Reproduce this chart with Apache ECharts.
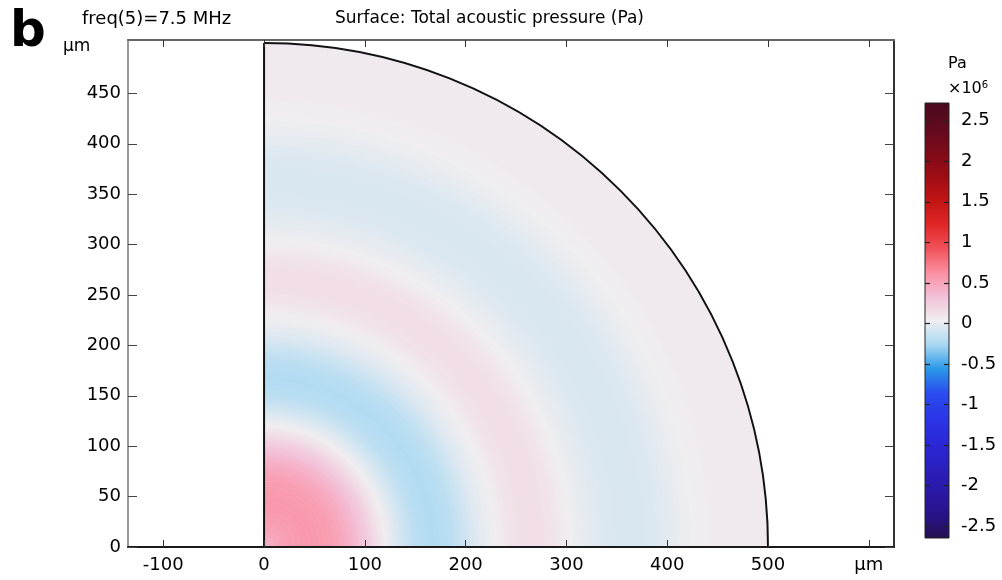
<!DOCTYPE html>
<html>
<head>
<meta charset="utf-8">
<title>Total acoustic pressure</title>
<script src="https://cdn.jsdelivr.net/npm/echarts@6/dist/echarts.min.js"></script>
<style>
  html, body { margin: 0; padding: 0; background: #fff; }
  #chart { width: 1002px; height: 580px; }
</style>
</head>
<body>
<div id="chart"></div>
<script>
// radial samples of the pressure field (um) and the pressure read at each one (x10^6 Pa)
const fieldRadius = [
  0, 5, 10, 15, 20, 25, 30, 35, 40, 45, 50, 55, 60, 65, 70, 75, 80, 85, 90, 95,
  100, 105, 110, 115, 120, 125, 130, 135, 140, 145, 150, 155, 160, 165, 170, 175, 180, 185, 190, 195,
  200, 205, 210, 215, 220, 225, 230, 235, 240, 245, 250, 255, 260, 265, 270, 275, 280, 285, 290, 295,
  300, 305, 310, 315, 320, 325, 330, 335, 340, 345, 350, 355, 360, 365, 370, 375, 380, 385, 390, 395,
  400, 405, 410, 415, 420, 425, 430, 435, 440, 445, 450, 455, 460, 465, 470, 475, 480, 485, 490, 495, 500
];
const fieldPressure = [
  0.42, 0.44, 0.47, 0.50, 0.52, 0.54, 0.55, 0.56, 0.57, 0.57, 0.57, 0.56, 0.55, 0.54, 0.52, 0.49, 0.46, 0.42, 0.38, 0.33,
  0.28, 0.22, 0.16, 0.10, 0.05, 0.00, -0.04, -0.08, -0.12, -0.15, -0.18, -0.20, -0.21, -0.22, -0.22, -0.21, -0.20, -0.18, -0.16, -0.13,
  -0.10, -0.07, -0.04, -0.02, 0.00, 0.02, 0.05, 0.07, 0.09, 0.11, 0.12, 0.13, 0.14, 0.14, 0.14, 0.13, 0.12, 0.11, 0.09, 0.07,
  0.05, 0.03, 0.01, 0.00, -0.01, -0.02, -0.03, -0.04, -0.05, -0.05, -0.06, -0.06, -0.06, -0.06, -0.06, -0.06, -0.05, -0.05, -0.04, -0.03,
  -0.02, -0.01, 0.00, 0.01, 0.02, 0.03, 0.04, 0.05, 0.05, 0.06, 0.06, 0.06, 0.06, 0.06, 0.06, 0.06, 0.06, 0.06, 0.06, 0.06, 0.06
];
const domainRadius = 500;

const xTicks = [-100, 0, 100, 200, 300, 400, 500, 600];
const yTicks = [0, 50, 100, 150, 200, 250, 300, 350, 400, 450];
const barTicks = [-2.5, -2, -1.5, -1, -0.5, 0, 0.5, 1, 1.5, 2, 2.5];
const barMin = -2.65;
const barMax = 2.72;

// colour table, evenly spread from barMin to barMax
const waveColors = [
  '#241050', '#28128a', '#2a18a8', '#2a20c0', '#2a28d8', '#2a36e8', '#2a4cf0', '#2a98e8', '#a8d8f2',
  '#f0eef0',
  '#f2c0d8', '#fb8ea0', '#f05058', '#e02424', '#c01414', '#9c0c14', '#7c0a18', '#600a1e', '#480a1c'
];

const font = 'DejaVu Sans';

const colorOf = v => echarts.color.lerp((v - barMin) / (barMax - barMin), waveColors);

// one ring between each pair of neighbouring samples, shaded from one sample colour to the next
const ringData = fieldRadius.slice(0, -1).map((r, i) => [r, fieldRadius[i + 1], fieldPressure[i], fieldPressure[i + 1]]);

const chart = echarts.init(document.getElementById('chart'));

const axisCommon = {
  type: 'value',
  z: 10,
  splitLine: { show: false }
};

const option = {
  animation: false,
  backgroundColor: '#fff',
  textStyle: { fontFamily: font },
  title: [
    { text: 'b', left: 5, top: 3, textStyle: { fontSize: 50, fontWeight: 'bold', color: '#000', fontFamily: font } },
    { text: 'freq(5)=7.5 MHz', left: 77, top: 5, textStyle: { fontSize: 18, fontWeight: 'normal', color: '#000', fontFamily: font } },
    { text: 'Surface: Total acoustic pressure (Pa)', left: 330, top: 5, textStyle: { fontSize: 17, fontWeight: 'normal', color: '#000', fontFamily: font } }
  ],
  grid: [
    { left: 128, top: 40, width: 766, height: 507, show: false },
    { left: 925, top: 103, width: 24, height: 435, show: false }
  ],
  xAxis: [
    Object.assign({}, axisCommon, {
      gridIndex: 0, min: -135, max: 625, position: 'bottom',
      axisLine: { show: true, onZero: false, lineStyle: { color: '#1a1a1a', width: 2 } },
      axisTick: { show: true, inside: true, length: 7, customValues: xTicks, lineStyle: { color: '#333' } },
      axisLabel: {
        customValues: xTicks, fontSize: 18, color: '#000', margin: 9, fontFamily: font,
        formatter: v => (v === 600 ? 'μm' : String(v))
      }
    }),
    Object.assign({}, axisCommon, {
      gridIndex: 0, min: -135, max: 625, position: 'top',
      axisLine: { show: true, onZero: false, lineStyle: { color: '#666', width: 2 } },
      axisTick: { show: true, inside: true, length: 7, customValues: xTicks, lineStyle: { color: '#333' } },
      axisLabel: { show: false }
    }),
    Object.assign({}, axisCommon, { gridIndex: 1, min: 0, max: 1, show: false })
  ],
  yAxis: [
    Object.assign({}, axisCommon, {
      gridIndex: 0, min: 0, max: 503, position: 'left',
      axisLine: { show: true, onZero: false, lineStyle: { color: '#999', width: 2 } },
      axisTick: { show: true, inside: true, length: 9, customValues: yTicks, lineStyle: { color: '#444' } },
      axisLabel: { customValues: yTicks, fontSize: 18, color: '#000', margin: 7, fontFamily: font }
    }),
    Object.assign({}, axisCommon, {
      gridIndex: 0, min: 0, max: 503, position: 'right',
      axisLine: { show: true, onZero: false, lineStyle: { color: '#333', width: 2 } },
      axisTick: { show: true, inside: true, length: 9, customValues: yTicks, lineStyle: { color: '#444' } },
      axisLabel: { show: false }
    }),
    Object.assign({}, axisCommon, {
      gridIndex: 1, min: barMin, max: barMax, position: 'right',
      axisLine: { show: false },
      axisTick: { show: false },
      axisLabel: { customValues: barTicks, fontSize: 18, color: '#000', margin: 12, fontFamily: font, formatter: v => String(v) }
    })
  ],
  graphic: [
    { type: 'text', left: 63, top: 38, style: { text: 'μm', font: '17px "DejaVu Sans"', fill: '#000' } },
    { type: 'text', left: 948, top: 56, style: { text: 'Pa', font: '16px "DejaVu Sans"', fill: '#000' } },
    {
      type: 'text', left: 948, top: 80,
      style: {
        text: '×10{s|6}', font: '16px "DejaVu Sans"', fill: '#000',
        rich: { s: { fontSize: 10, verticalAlign: 'top', padding: [0, 0, 8, 0], fontFamily: font } }
      }
    }
  ],
  series: [
    {
      type: 'custom',
      name: 'pressure',
      xAxisIndex: 0,
      yAxisIndex: 0,
      z: 2,
      silent: true,
      encode: { x: 0, y: 1 },
      data: ringData,
      renderItem: (params, api) => {
        const c = api.coord([0, 0]);
        const rIn = api.size([api.value(0), 0])[0];
        const rOut = api.size([api.value(1), 0])[0];
        const shade = new echarts.graphic.RadialGradient(c[0], c[1], rOut, [
          { offset: rIn / rOut, color: colorOf(api.value(2)) },
          { offset: 1, color: colorOf(api.value(3)) }
        ], true);
        return {
          type: 'sector',
          shape: { cx: c[0], cy: c[1], r0: rIn, r: rOut, startAngle: -Math.PI / 2, endAngle: 0, clockwise: true },
          style: { fill: shade, stroke: shade, lineWidth: 0.8 }
        };
      }
    },
    {
      type: 'custom',
      name: 'outline',
      xAxisIndex: 0,
      yAxisIndex: 0,
      z: 5,
      silent: true,
      data: [[0, 0]],
      renderItem: (params, api) => {
        const c = api.coord([0, 0]);
        const top = api.coord([0, domainRadius]);
        const r = api.size([domainRadius, 0])[0];
        return {
          type: 'group',
          children: [
            { type: 'arc', shape: { cx: c[0], cy: c[1], r: r, startAngle: -Math.PI / 2, endAngle: 0, clockwise: true },
              style: { stroke: '#111', lineWidth: 2, fill: null } },
            { type: 'line', shape: { x1: c[0], y1: c[1], x2: top[0], y2: top[1] },
              style: { stroke: '#111', lineWidth: 2 } }
          ]
        };
      }
    },
    {
      // colour bar: one box spanning the colour range, shaded with the same colour table, ticks on both edges
      type: 'custom',
      name: 'colorbar',
      xAxisIndex: 2,
      yAxisIndex: 2,
      z: 1,
      silent: true,
      data: [[0, barMin, 1, barMax]],
      renderItem: (params, api) => {
        const p0 = api.coord([api.value(0), api.value(3)]);
        const p1 = api.coord([api.value(2), api.value(1)]);
        const stops = waveColors.map((col, i) => ({ offset: 1 - i / (waveColors.length - 1), color: col })).reverse();
        const children = [{
          type: 'rect',
          shape: { x: p0[0], y: p0[1], width: p1[0] - p0[0], height: p1[1] - p0[1] },
          style: { fill: new echarts.graphic.LinearGradient(0, 0, 0, 1, stops), stroke: '#222', lineWidth: 1 }
        }];
        barTicks.forEach(t => {
          const y = Math.round(api.coord([0, t])[1]) + 0.5;
          children.push({ type: 'line', shape: { x1: p0[0], y1: y, x2: p0[0] + 5, y2: y }, style: { stroke: '#222', lineWidth: 1.2 } });
          children.push({ type: 'line', shape: { x1: p1[0] - 5, y1: y, x2: p1[0], y2: y }, style: { stroke: '#222', lineWidth: 1.2 } });
        });
        return { type: 'group', children: children };
      }
    }
  ]
};

chart.setOption(option);
</script>
</body>
</html>
